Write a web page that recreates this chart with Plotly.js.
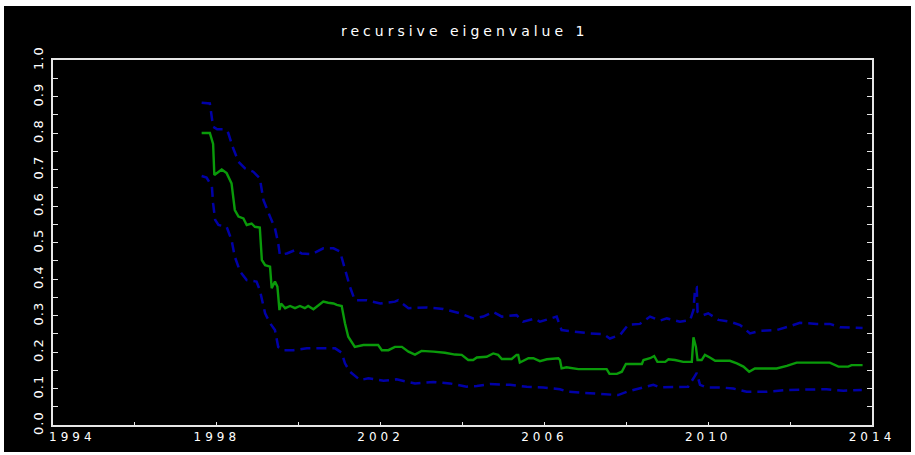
<!DOCTYPE html>
<html>
<head>
<meta charset="utf-8">
<script src="https://cdn.plot.ly/plotly-3.0.1.min.js"></script>
<style>
  html, body { margin: 0; padding: 0; background: #ffffff; width: 915px; height: 455px; overflow: hidden; }
  #chart { position: absolute; left: 4px; top: 6px; width: 907px; height: 446px; background: #000; }
  #chart .gtitle { letter-spacing: 4px; }
  #chart .xtick text, #chart .annotation-text { letter-spacing: 4px; }
  #chart .ytick text { letter-spacing: 1px; }
</style>
</head>
<body>
<div id="chart"></div>
<script>
// ---- data (decimal years) ----
const estYears = [1997.63,1997.83,1997.91,1997.94,1998.12,1998.24,1998.36,1998.44,1998.53,1998.65,1998.73,1998.85,1998.93,1999.05,1999.10,1999.18,1999.30,1999.34,1999.42,1999.48,1999.53,1999.57,1999.67,1999.79,1999.91,2000.03,2000.15,2000.23,2000.36,2000.60,2000.72,2000.85,2000.93,2001.05,2001.13,2001.21,2001.37,2001.58,2001.94,2002.03,2002.19,2002.35,2002.52,2002.68,2002.84,2003.00,2003.29,2003.57,2003.82,2003.98,2004.14,2004.26,2004.35,2004.59,2004.75,2004.87,2004.96,2005.20,2005.32,2005.36,2005.40,2005.61,2005.73,2005.89,2006.06,2006.34,2006.38,2006.42,2006.54,2006.83,2007.52,2007.59,2007.77,2007.89,2007.99,2008.38,2008.42,2008.58,2008.68,2008.76,2008.95,2009.03,2009.19,2009.39,2009.60,2009.64,2009.70,2009.74,2009.84,2009.92,2010.04,2010.17,2010.53,2010.70,2010.86,2011.00,2011.14,2011.67,2011.92,2012.16,2012.97,2013.18,2013.42,2013.50,2013.77];
const estValues = [0.800,0.800,0.770,0.685,0.700,0.690,0.662,0.589,0.571,0.566,0.548,0.552,0.543,0.541,0.452,0.438,0.434,0.375,0.393,0.379,0.315,0.333,0.320,0.326,0.320,0.326,0.320,0.326,0.317,0.338,0.335,0.333,0.329,0.326,0.279,0.242,0.214,0.219,0.219,0.205,0.205,0.214,0.214,0.201,0.193,0.203,0.201,0.198,0.193,0.192,0.178,0.178,0.185,0.187,0.196,0.192,0.181,0.181,0.192,0.192,0.171,0.183,0.183,0.175,0.180,0.183,0.178,0.155,0.158,0.153,0.153,0.140,0.140,0.146,0.167,0.167,0.178,0.183,0.189,0.173,0.173,0.180,0.178,0.173,0.173,0.240,0.214,0.178,0.178,0.192,0.185,0.176,0.176,0.169,0.160,0.146,0.155,0.155,0.162,0.171,0.171,0.160,0.160,0.164,0.164];

const upperYears = [1997.63,1997.83,1997.91,1998.01,1998.20,1998.28,1998.40,1998.53,1998.69,1998.89,1999.05,1999.14,1999.30,1999.42,1999.50,1999.54,1999.71,1999.91,2000.07,2000.32,2000.60,2000.85,2001.01,2001.13,2001.25,2001.37,2001.66,2001.99,2002.35,2002.43,2002.68,2003.13,2003.53,2003.94,2004.26,2004.51,2004.75,2004.96,2005.32,2005.48,2005.77,2005.89,2006.30,2006.42,2006.71,2007.11,2007.44,2007.60,2007.85,2008.05,2008.33,2008.58,2008.82,2008.99,2009.31,2009.56,2009.64,2009.68,2009.72,2009.74,2009.88,2010.00,2010.25,2010.53,2010.78,2011.02,2011.27,2011.67,2012.00,2012.24,2012.65,2012.97,2013.22,2013.77];
const upperValues = [0.883,0.881,0.817,0.810,0.810,0.800,0.758,0.721,0.703,0.694,0.676,0.616,0.571,0.539,0.498,0.466,0.470,0.479,0.470,0.468,0.484,0.484,0.475,0.425,0.379,0.342,0.342,0.333,0.338,0.342,0.320,0.322,0.318,0.306,0.292,0.297,0.310,0.297,0.301,0.283,0.292,0.283,0.297,0.260,0.256,0.251,0.249,0.237,0.247,0.275,0.277,0.297,0.286,0.292,0.283,0.288,0.315,0.375,0.377,0.310,0.301,0.306,0.288,0.283,0.274,0.251,0.258,0.260,0.271,0.280,0.277,0.277,0.268,0.266];

const lowerYears = [1997.63,1997.75,1997.88,1997.91,1997.96,1998.04,1998.24,1998.36,1998.44,1998.57,1998.73,1998.97,1999.05,1999.18,1999.30,1999.42,1999.50,1999.62,1999.87,2000.20,2000.52,2000.89,2001.05,2001.13,2001.25,2001.50,2001.70,2002.07,2002.39,2002.84,2003.29,2003.69,2004.10,2004.35,2004.67,2005.16,2005.57,2005.97,2006.38,2006.58,2007.11,2007.52,2007.80,2008.01,2008.33,2008.66,2008.82,2009.19,2009.51,2009.64,2009.72,2009.80,2009.96,2010.29,2010.61,2010.94,2011.43,2011.92,2012.41,2012.89,2013.30,2013.75];
const lowerValues = [0.682,0.678,0.653,0.607,0.562,0.548,0.543,0.507,0.461,0.420,0.397,0.393,0.370,0.306,0.279,0.260,0.214,0.205,0.205,0.210,0.210,0.210,0.198,0.169,0.146,0.123,0.128,0.121,0.125,0.114,0.118,0.114,0.105,0.107,0.112,0.110,0.105,0.103,0.098,0.091,0.087,0.085,0.082,0.091,0.100,0.110,0.103,0.105,0.105,0.128,0.143,0.110,0.103,0.103,0.100,0.091,0.091,0.096,0.098,0.098,0.094,0.096];

const titleText = "recursive eigenvalue 1";
const xTickVals = [1998, 2002, 2006, 2010, 2014];
const xTickText = ["1998", "2002", "2006", "2010", "2014"];
const xFirstLabel = "1994";
const yTickVals = [0.0,0.1,0.2,0.3,0.4,0.5,0.6,0.7,0.8,0.9,1.0];
const yTickText = ["0.0","0.1","0.2","0.3","0.4","0.5","0.6","0.7","0.8","0.9","1.0"];

const blue = "#0000a8";
const green = "#0a9a0a";
const frame = "#e6e6e6";

const traces = [
  {x: upperYears, y: upperValues, type: "scatter", mode: "lines",
   line: {color: blue, width: 2.5, dash: "10px,6px", shape: "linear"}, hoverinfo: "skip"},
  {x: lowerYears, y: lowerValues, type: "scatter", mode: "lines",
   line: {color: blue, width: 2.5, dash: "10px,6px", shape: "linear"}, hoverinfo: "skip"},
  {x: estYears, y: estValues, type: "scatter", mode: "lines",
   line: {color: green, width: 2.4, shape: "linear"}, hoverinfo: "skip"}
];

const xTickFont = {family: "DejaVu Sans, sans-serif", size: 12, color: "#ffffff"};
const yTickFont = {family: "DejaVu Sans, sans-serif", size: 13, color: "#ffffff"};

const layout = {
  width: 907, height: 446,
  paper_bgcolor: "#000000", plot_bgcolor: "#000000",
  margin: {l: 49, r: 39, t: 54, b: 27, pad: 0},
  showlegend: false,
  title: {text: titleText, x: 0.508, xanchor: "center", y: 0.943, yanchor: "middle", yref: "container",
          font: {family: "DejaVu Sans, sans-serif", size: 14, color: "#ffffff"}},
  xaxis: {
    range: [1994, 2014], showgrid: false, zeroline: false,
    showline: true, linecolor: frame, linewidth: 2, mirror: true,
    tickmode: "array", tickvals: xTickVals, ticktext: xTickText,
    ticks: "inside", ticklen: 3, tickcolor: frame, tickwidth: 1,
    minor: {dtick: 2, tick0: 1994, ticks: "inside", ticklen: 3, tickcolor: frame, tickwidth: 1},
    tickfont: xTickFont
  },
  yaxis: {
    range: [0, 1], showgrid: false, zeroline: false,
    showline: true, linecolor: frame, linewidth: 2, mirror: "ticks",
    tickmode: "array", tickvals: yTickVals, ticktext: yTickText,
    ticks: "inside", ticklen: 5, tickcolor: frame, tickwidth: 1,
    minor: {dtick: 0.05, tick0: 0, ticks: "inside", ticklen: 5, tickcolor: frame, tickwidth: 1},
    tickangle: -90, tickfont: yTickFont, ticklabelstandoff: 3
  },
  annotations: [
    {text: xFirstLabel, x: 1994, xref: "x", y: 0, yref: "paper", xanchor: "left", yanchor: "top",
     xshift: 2, yshift: -3, showarrow: false, font: xTickFont}
  ]
};

Plotly.newPlot("chart", traces, layout, {staticPlot: true, displayModeBar: false});
</script>
</body>
</html>
